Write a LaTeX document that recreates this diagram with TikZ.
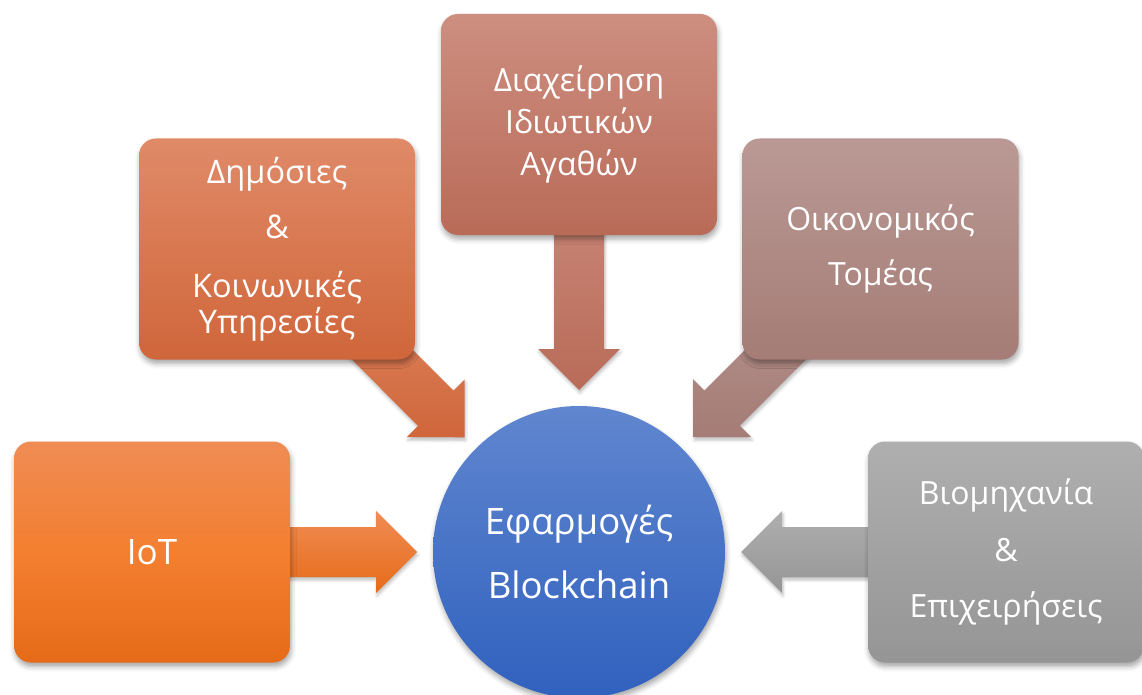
\documentclass[tikz,border=0pt]{standalone}
\usepackage{fontspec}
\setmainfont{Open Sans}
\usetikzlibrary{calc,shadows.blur}
\pgfdeclarelayer{arrows}
\pgfsetlayers{arrows,main}

% fill colours (light top / dark bottom)
\definecolor{iotTop}{RGB}{240,140,84}
\definecolor{iotMid}{RGB}{243,127,48}
\definecolor{iotBot}{RGB}{230,107,24}
\definecolor{pubTop}{RGB}{224,138,104}
\definecolor{pubBot}{RGB}{208,102,58}
\definecolor{astTop}{RGB}{205,142,128}
\definecolor{astBot}{RGB}{185,107,88}
\definecolor{finTop}{RGB}{186,153,149}
\definecolor{finBot}{RGB}{165,124,118}
\definecolor{indTop}{RGB}{175,175,175}
\definecolor{indBot}{RGB}{149,149,149}
\definecolor{hubTop}{RGB}{96,134,207}
\definecolor{hubBot}{RGB}{48,97,190}

\tikzset{
  softshadow/.style={blur shadow={shadow xshift=1pt, shadow yshift=-4pt,
      shadow blur radius=5pt, shadow opacity=35}},
  box/.style={rectangle, rounded corners=17pt, minimum width=276pt,
      minimum height=221pt, inner sep=0pt, text=white, align=center, softshadow},
  hubnode/.style={circle, minimum size=292pt, inner sep=0pt, text=white,
      align=center, top color=hubTop, bottom color=hubBot, softshadow},
}

% block arrow from a source box towards the hub: #1 source, #2/#3 colours
\newcommand\blockarrow[3]{%
  \begin{pgfonlayer}{arrows}
    \coordinate (T) at ($(hub.center)!162pt!(#1.center)$);
    \coordinate (B) at ($(hub.center)!203pt!(#1.center)$);
    \coordinate (S) at ($(hub.center)!335pt!(#1.center)$);
    \shade[top color=#2, bottom color=#3,
        blur shadow={shadow xshift=1pt, shadow yshift=-3pt,
        shadow blur radius=3pt, shadow opacity=25}]
      ($(S)!25pt!90:(T)$) -- ($(B)!25pt!90:(T)$) -- ($(B)!41pt!90:(T)$)
      -- (T) -- ($(B)!41pt!-90:(T)$) -- ($(B)!25pt!-90:(T)$)
      -- ($(S)!25pt!-90:(T)$) -- cycle;
  \end{pgfonlayer}}

\begin{document}
\begin{tikzpicture}[x=1pt, y=-1pt]
  \useasboundingbox (0,0) rectangle (1142,695);

  % central application circle
  \node[hubnode, font={\fontsize{36.5}{64}\selectfont}] (hub) at (579,552)
    {Εφαρμογές\\Blockchain};

  % surrounding application areas
  \node[box, top color=iotTop, bottom color=iotBot, middle color=iotMid,
        font={\fontsize{35}{48}\selectfont}] (iot) at (152,552) {IoT};
  \node[box, top color=pubTop, bottom color=pubBot,
        font={\fontsize{32.5}{36}\selectfont}] (pub) at (277,249)
    {Δημόσιες\\[19pt]\&\\[23pt]Κοινωνικές\\Υπηρεσίες};
  \node[box, top color=astTop, bottom color=astBot,
        font={\fontsize{32}{42}\selectfont}] (ast) at (579,124.5)
    {Διαχείρηση\\Ιδιωτικών\\Αγαθών};
  \node[box, top color=finTop, bottom color=finBot,
        font={\fontsize{32}{55}\selectfont}] (fin) at (880.5,249)
    {Οικονομικός\\Τομέας};
  \node[box, top color=indTop, bottom color=indBot,
        font={\fontsize{32}{56.5}\selectfont}] (ind) at (1006,552)
    {Βιομηχανία\\\&\\Επιχειρήσεις};

  % arrows into the hub
  \blockarrow{iot}{iotTop}{iotBot}
  \blockarrow{pub}{pubTop!80!pubBot}{pubBot}
  \blockarrow{ast}{astTop!70!astBot}{astBot}
  \blockarrow{fin}{finTop!70!finBot}{finBot}
  \blockarrow{ind}{indTop}{indBot}
\end{tikzpicture}
\end{document}
